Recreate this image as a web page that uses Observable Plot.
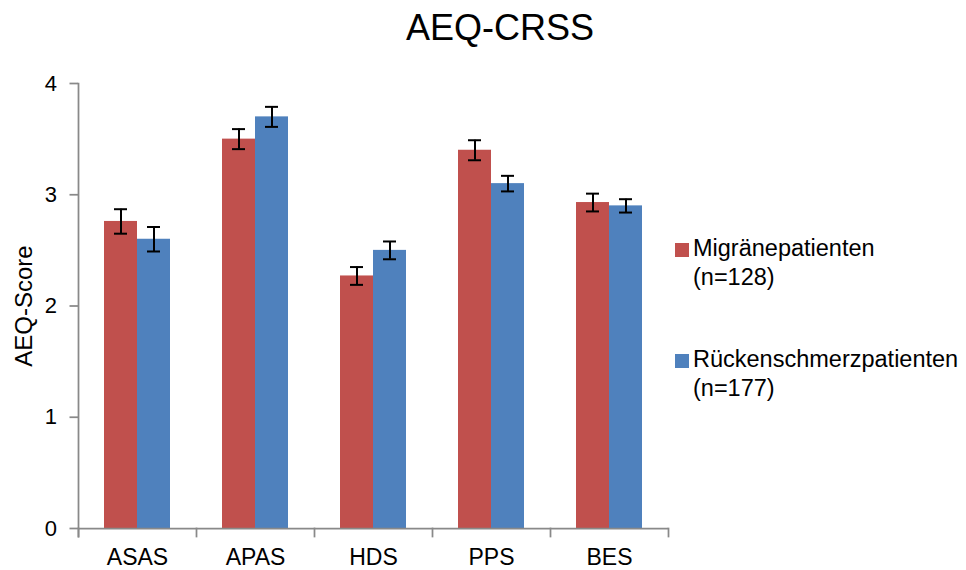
<!DOCTYPE html>
<html>
<head>
<meta charset="utf-8">
<script src="https://cdn.jsdelivr.net/npm/d3@7"></script>
<script src="https://cdn.jsdelivr.net/npm/@observablehq/plot@0.6"></script>
<style>
  html, body { margin: 0; padding: 0; background: #fff; }
  #wrap { position: relative; width: 966px; height: 570px; font-family: "Liberation Sans", Arial, sans-serif; color: #000; }
  #title { position: absolute; left: 300px; width: 400px; top: 10px; text-align: center; font-size: 36px; line-height: 36px; }
  .leg { position: absolute; left: 675px; font-size: 23.5px; line-height: 29px; }
  .leg .sw { position: absolute; left: 0; top: 9px; width: 14px; height: 14px; }
  .leg .tx { position: absolute; left: 18px; top: 0; white-space: nowrap; }
  #chart { position: absolute; left: 0; top: 0; }
</style>
</head>
<body>
<div id="wrap">
  <div id="chart"></div>
  <div id="title"></div>
  <div id="legend"></div>
</div>
<script>
// ---- data ----
const title = "AEQ-CRSS";
const yLabel = "AEQ-Score";
const categories = ["ASAS", "APAS", "HDS", "PPS", "BES"];
const series = ["Migränepatienten", "Rückenschmerzpatienten"];
const seriesNote = ["(n=128)", "(n=177)"];
const colors = ["#C0504D", "#4F81BD"];
const migraene = [2.76, 3.50, 2.27, 3.40, 2.93];
const migraeneErr = [0.11, 0.09, 0.08, 0.09, 0.08];
const ruecken = [2.60, 3.70, 2.50, 3.10, 2.90];
const rueckenErr = [0.11, 0.09, 0.08, 0.07, 0.06];
const yTicks = [0, 1, 2, 3, 4];

// ---- table ----
const rows = [];
categories.forEach((c, i) => {
  rows.push({cat: c, series: series[0], value: migraene[i], err: migraeneErr[i]});
  rows.push({cat: c, series: series[1], value: ruecken[i], err: rueckenErr[i]});
});

// ---- layout ----
const W = 966, H = 570;
const mTop = 83, mBottom = 42, mLeft = 77, mRight = 297;
const plotH = H - mTop - mBottom;
const axisGray = "#898989";
const axisW = 1.75;

const chart = Plot.plot({
  width: W,
  height: H,
  marginTop: mTop,
  marginBottom: mBottom,
  marginLeft: mLeft,
  marginRight: mRight,
  style: {fontFamily: '"Liberation Sans", Arial, sans-serif', fontSize: "22px", color: "#000", background: "transparent", overflow: "visible"},
  fx: {domain: categories, padding: 0, axis: null},
  x: {domain: series, paddingInner: 0, paddingOuter: 0.74, axis: null},
  y: {domain: [0, 4], axis: null},
  color: {domain: series, range: colors},
  marks: [
    Plot.barY(rows, {fx: "cat", x: "series", y: "value", fill: "series"}),
    Plot.ruleX(rows, {fx: "cat", x: "series", y1: d => d.value - d.err, y2: d => d.value + d.err, stroke: "#000", strokeWidth: 2}),
    Plot.tickY(rows, {fx: "cat", x: "series", y: d => d.value + d.err, insetLeft: 10, insetRight: 10, stroke: "#000", strokeWidth: 2}),
    Plot.tickY(rows, {fx: "cat", x: "series", y: d => d.value - d.err, insetLeft: 10, insetRight: 10, stroke: "#000", strokeWidth: 2}),
    Plot.ruleY([0], {stroke: axisGray, strokeWidth: axisW}),
    Plot.frame({anchor: "left", facetAnchor: "left", stroke: axisGray, strokeWidth: axisW, insetBottom: -8}),
    Plot.frame({anchor: "left", stroke: axisGray, strokeWidth: axisW, insetTop: plotH, insetBottom: -8}),
    Plot.frame({anchor: "right", facetAnchor: "right", stroke: axisGray, strokeWidth: axisW, insetTop: plotH, insetBottom: -8}),
    Plot.axisY({ticks: yTicks, tickFormat: d3.format("d"), tickSize: 8.5, tickPadding: 13, stroke: axisGray, strokeWidth: axisW, fill: "#000", fontSize: 22, label: null}),
    Plot.axisY({ticks: [], tickSize: 0, fill: "#000", fontSize: 24, label: yLabel, labelAnchor: "center", labelArrow: "none", labelOffset: 64}),
    Plot.axisFx({anchor: "bottom", tickSize: 0, tickPadding: 20, fontSize: 23, fill: "#000", label: null})
  ]
});
document.getElementById("chart").appendChild(chart);
document.getElementById("title").textContent = title;

// ---- legend ----
const legTops = [234, 345];
const leg = document.getElementById("legend");
series.forEach((s, i) => {
  const item = document.createElement("div");
  item.className = "leg";
  item.style.top = legTops[i] + "px";
  const sw = document.createElement("div");
  sw.className = "sw";
  sw.style.background = colors[i];
  const tx = document.createElement("div");
  tx.className = "tx";
  tx.appendChild(document.createTextNode(s));
  tx.appendChild(document.createElement("br"));
  tx.appendChild(document.createTextNode(seriesNote[i]));
  item.appendChild(sw);
  item.appendChild(tx);
  leg.appendChild(item);
});
</script>
</body>
</html>
